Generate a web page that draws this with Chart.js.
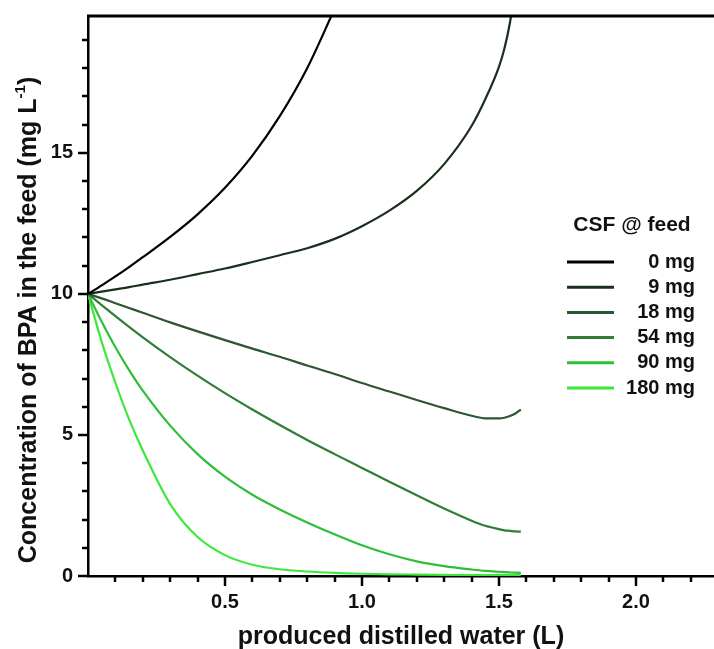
<!DOCTYPE html>
<html>
<head>
<meta charset="utf-8">
<script src="https://cdn.jsdelivr.net/npm/chart.js@4.4.1/dist/chart.umd.min.js"></script>
<style>
  html, body { margin: 0; padding: 0; background: #fff; }
  #wrap { width: 714px; height: 649px; position: relative; }
</style>
</head>
<body>
<div id="wrap"><canvas id="bpaChart"></canvas></div>
<script>
// produced distilled water (L)
const volume = [0, 0.05, 0.1, 0.15, 0.2, 0.3, 0.4, 0.5, 0.6, 0.7, 0.8, 0.9, 1.0, 1.1, 1.2, 1.3, 1.4, 1.45, 1.5, 1.52, 1.54, 1.56, 1.58];

// BPA in the feed (mg/L) for each CSF dose
const csf0   = [10, 10.3, 10.62, 10.95, 11.3, 12.02, 12.82, 13.76, 14.9, 16.3, 18.0, 20.1, null, null, null, null, null, null, null, null, null, null, null];
const csf9   = [10, 10.08, 10.16, 10.24, 10.33, 10.5, 10.7, 10.9, 11.13, 11.37, 11.62, 11.95, 12.4, 12.95, 13.65, 14.6, 15.95, 16.9, 18.05, 18.7, 19.6, 20.9, null];
const csf18  = [10, 9.84, 9.67, 9.5, 9.33, 8.99, 8.67, 8.36, 8.06, 7.77, 7.46, 7.16, 6.84, 6.54, 6.24, 5.95, 5.68, 5.59, 5.59, 5.61, 5.67, 5.76, 5.9];
const csf54  = [10, 9.6, 9.21, 8.83, 8.46, 7.76, 7.1, 6.48, 5.9, 5.35, 4.82, 4.32, 3.83, 3.34, 2.86, 2.39, 1.96, 1.78, 1.66, 1.62, 1.6, 1.58, 1.57];
const csf90  = [10, 9.01, 8.11, 7.3, 6.57, 5.33, 4.32, 3.52, 2.88, 2.36, 1.9, 1.48, 1.09, 0.77, 0.52, 0.35, 0.23, 0.18, 0.15, 0.14, 0.13, 0.12, 0.11];
const csf180 = [10, 8.3, 6.85, 5.55, 4.45, 2.55, 1.38, 0.74, 0.4, 0.24, 0.16, 0.11, 0.08, 0.06, 0.05, 0.04, 0.03, 0.03, 0.03, 0.03, 0.03, 0.03, 0.03];

const doseLabels = ['0 mg', '9 mg', '18 mg', '54 mg', '90 mg', '180 mg'];
const doseSeries = [csf0, csf9, csf18, csf54, csf90, csf180];
const doseColors = ['#000000', '#1b2f1d', '#2c5532', '#2f7d36', '#2ebf38', '#3de83d'];

const xTickValues = [0.5, 1.0, 1.5, 2.0];
const yTickValues = [0, 5, 10, 15];

const FONT = '"Liberation Sans", Arial, sans-serif';

// minor/major tick marks drawn outside the axes, plus the top frame line
const tickMarks = {
    id: 'tickMarks',
    afterDraw(chart) {
        const { ctx, chartArea: a, scales: { x, y } } = chart;
        ctx.save();
        ctx.strokeStyle = '#000';
        ctx.lineWidth = 2.5;
        for (let i = 1; i <= 22; i++) {
            const px = Math.round(x.getPixelForValue(i / 10));
            const len = i % 5 === 0 ? 10 : 6;
            ctx.beginPath();
            ctx.moveTo(px, a.bottom);
            ctx.lineTo(px, a.bottom + len);
            ctx.stroke();
        }
        for (let v = 0; v <= 19; v++) {
            const py = Math.round(y.getPixelForValue(v));
            const len = v % 5 === 0 ? 10 : 6;
            ctx.beginPath();
            ctx.moveTo(a.left, py);
            ctx.lineTo(a.left - len, py);
            ctx.stroke();
        }
        ctx.lineWidth = 3;
        ctx.beginPath();
        ctx.moveTo(a.left - 1, a.top);
        ctx.lineTo(a.right, a.top);
        ctx.stroke();
        ctx.restore();
    }
};

// rotated y title with a superscript exponent
const yTitle = {
    id: 'yTitle',
    afterDraw(chart) {
        const ctx = chart.ctx;
        const main = 'Concentration of BPA in the feed (mg L';
        const sup = '-1';
        const tail = ')';
        ctx.save();
        ctx.fillStyle = '#111';
        ctx.textBaseline = 'middle';
        ctx.font = 'bold 25px ' + FONT;
        const wMain = ctx.measureText(main).width;
        const wTail = ctx.measureText(tail).width;
        ctx.font = 'bold 15px ' + FONT;
        const wSup = ctx.measureText(sup).width;
        const total = wMain + wSup + wTail;
        ctx.translate(29, 320);
        ctx.rotate(-Math.PI / 2);
        let cx = -total / 2;
        ctx.font = 'bold 25px ' + FONT;
        ctx.fillText(main, cx, 0);
        cx += wMain;
        ctx.font = 'bold 15px ' + FONT;
        ctx.fillText(sup, cx, -8);
        cx += wSup;
        ctx.font = 'bold 25px ' + FONT;
        ctx.fillText(tail, cx, 0);
        ctx.restore();
    }
};

// legend: title, line sample on the left, label right-aligned
const doseLegend = {
    id: 'doseLegend',
    afterDraw(chart) {
        const ctx = chart.ctx;
        ctx.save();
        ctx.fillStyle = '#111';
        ctx.font = 'bold 21px ' + FONT;
        ctx.textAlign = 'center';
        ctx.textBaseline = 'middle';
        ctx.fillText('CSF @ feed', 632, 225);
        ctx.font = 'bold 20px ' + FONT;
        ctx.textAlign = 'right';
        chart.data.datasets.forEach((ds, i) => {
            const ry = 262 + i * 25.2;
            ctx.strokeStyle = ds.borderColor;
            ctx.lineWidth = 3;
            ctx.beginPath();
            ctx.moveTo(567, ry);
            ctx.lineTo(614, ry);
            ctx.stroke();
            ctx.fillText(ds.label, 695, ry);
        });
        ctx.restore();
    }
};

const datasets = doseSeries.map((series, i) => ({
    label: doseLabels[i],
    data: volume.map((v, j) => ({ x: v, y: series[j] })),
    borderColor: doseColors[i],
    backgroundColor: doseColors[i],
    borderWidth: 2.2,
    pointRadius: 0,
    cubicInterpolationMode: 'monotone',
    spanGaps: false,
    fill: false,
}));

new Chart(document.getElementById('bpaChart'), {
    type: 'line',
    data: { datasets },
    options: {
        responsive: true,
        maintainAspectRatio: false,
        animation: false,
        layout: { padding: { top: 16, right: 0, left: 0, bottom: 0 } },
        plugins: {
            legend: { display: false },
            tooltip: { enabled: false },
        },
        scales: {
            x: {
                type: 'linear',
                min: 0,
                max: 2.285,
                afterFit: s => {
                    s.height = 73;
                    s.paddingLeft = 0;
                    s.paddingRight = 0;
                },
                afterBuildTicks: s => { s.ticks = xTickValues.map(v => ({ value: v })); },
                ticks: {
                    callback: v => v.toFixed(1),
                    color: '#111',
                    font: { family: FONT, size: 20, weight: 'bold' },
                    padding: 14,
                    maxRotation: 0,
                },
                grid: { display: false, drawTicks: false },
                border: { display: true, color: '#000', width: 2.5 },
                title: {
                    display: true,
                    text: 'produced distilled water (L)',
                    color: '#111',
                    font: { family: FONT, size: 25, weight: 'bold' },
                    padding: { top: 0, bottom: -3 },
                },
            },
            y: {
                type: 'linear',
                min: 0,
                max: 19.85,
                afterFit: s => {
                    s.width = 88;
                    s.paddingTop = 0;
                    s.paddingBottom = 0;
                },
                afterBuildTicks: s => { s.ticks = yTickValues.map(v => ({ value: v })); },
                ticks: {
                    color: '#111',
                    font: { family: FONT, size: 20, weight: 'bold' },
                    padding: 15,
                },
                grid: { display: false, drawTicks: false },
                border: { display: true, color: '#000', width: 2.5 },
            },
        },
    },
    plugins: [tickMarks, yTitle, doseLegend],
});
</script>
</body>
</html>
